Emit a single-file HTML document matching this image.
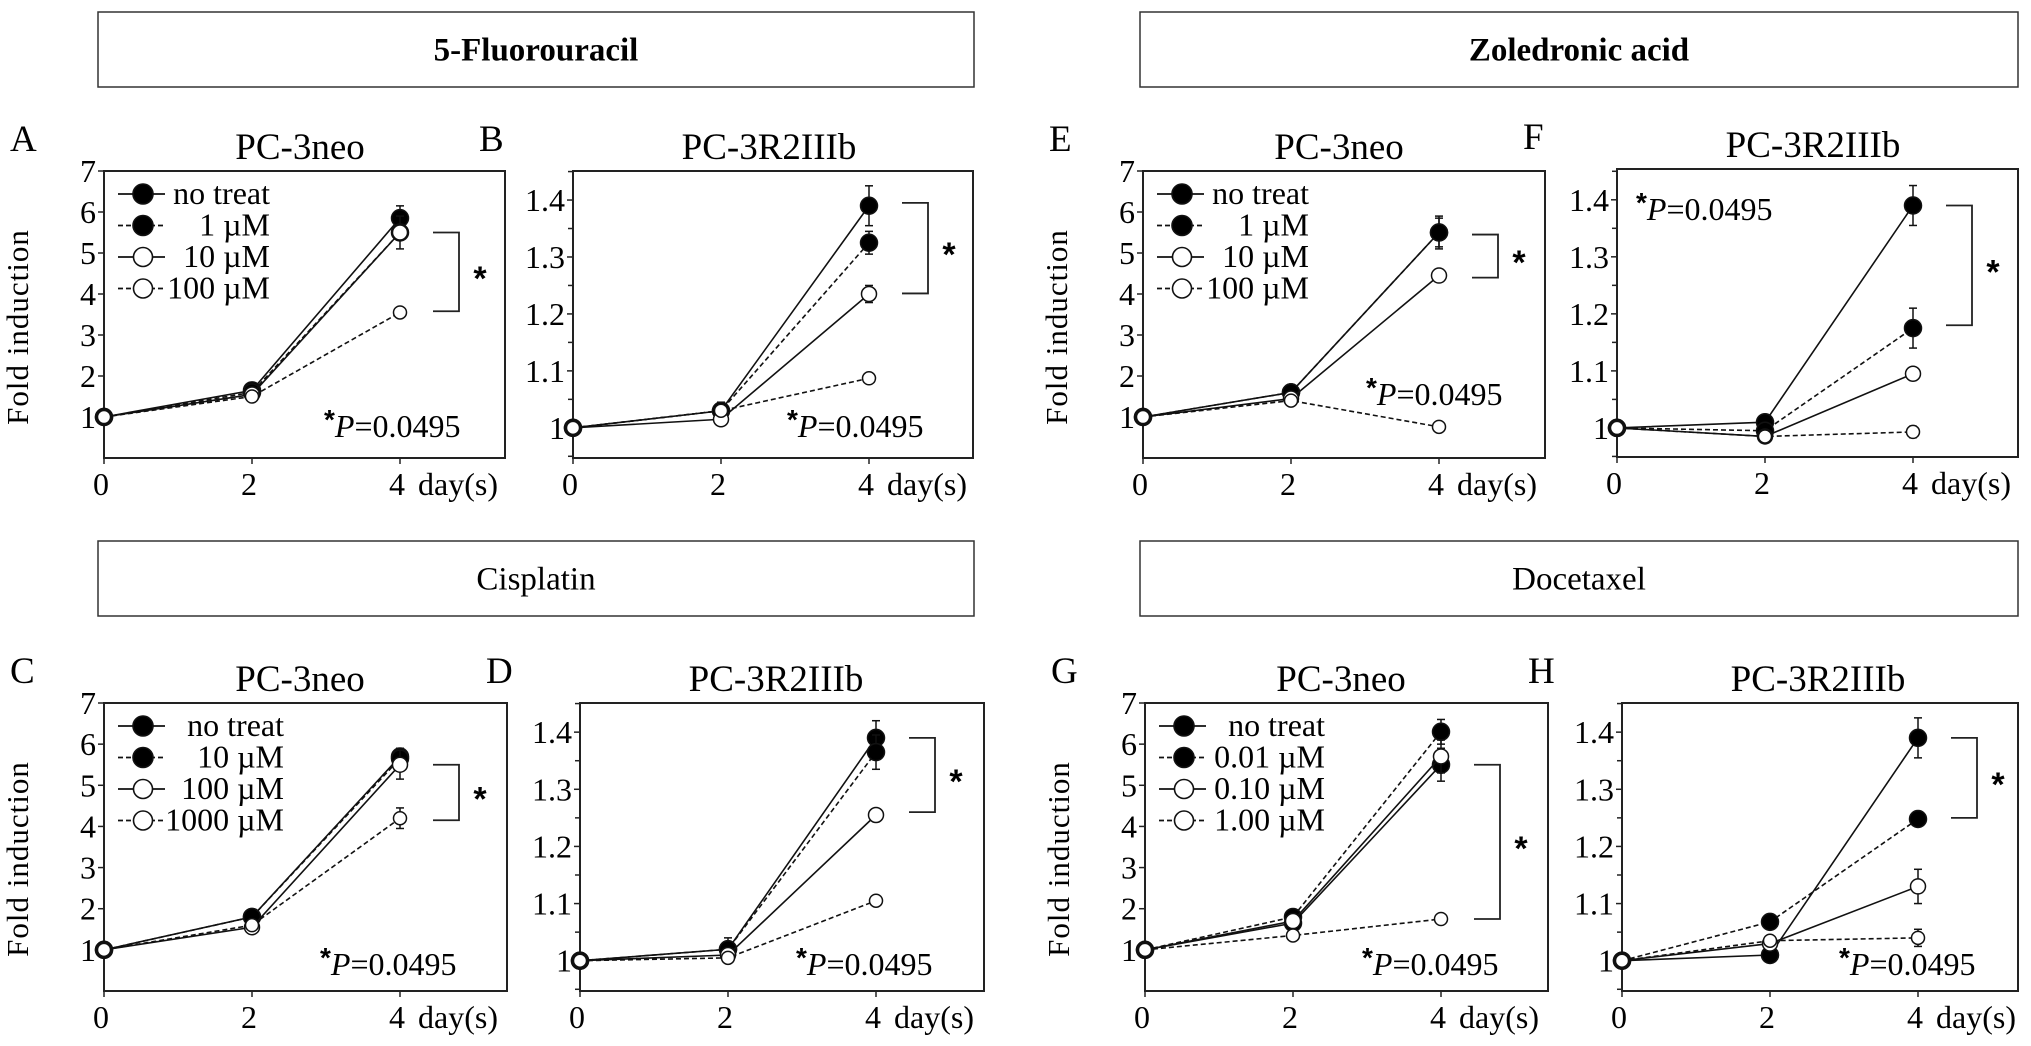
<!DOCTYPE html>
<html><head><meta charset="utf-8"><style>
html,body{margin:0;padding:0;background:#fff;}
svg{display:block;font-family:"Liberation Serif",serif;}
</style></head><body>
<svg id="fig" width="2031" height="1046" viewBox="0 0 2031 1046" xmlns="http://www.w3.org/2000/svg"></svg>
<script>
const days=[0,2,4];
// Panel A: 5-FU, PC-3neo
const A_vals=[[1,1.65,5.85],[1,1.6,5.5],[1,1.55,5.5],[1,1.5,3.55]];
const A_err=[[0,0,0.3],[0,0,0.4],[0,0,0.1],[0,0,0.05]];
const A_legend=["no treat","1 µM","10 µM","100 µM"];
const A_bracket=[5.5,3.58];
// Panel B: 5-FU, PC-3R2IIIb
const B_vals=[[1,1.03,1.39],[1,1.03,1.325],[1,1.015,1.235],[1,1.03,1.087]];
const B_err=[[0,0.015,0.035],[0,0,0.02],[0,0,0.015],[0,0,0.005]];
const B_bracket=[1.395,1.236];
// Panel C: Cisplatin, PC-3neo
const C_vals=[[1,1.8,5.7],[1,1.8,5.65],[1,1.55,5.5],[1,1.6,4.2]];
const C_err=[[0,0,0.2],[0,0,0.2],[0,0,0.35],[0,0,0.25]];
const C_legend=["no treat","10 µM","100 µM","1000 µM"];
const C_bracket=[5.5,4.15];
// Panel D: Cisplatin, PC-3R2IIIb
const D_vals=[[1,1.02,1.39],[1,1.02,1.365],[1,1.01,1.255],[1,1.005,1.105]];
const D_err=[[0,0.02,0.03],[0,0,0.03],[0,0,0.005],[0,0,0.005]];
const D_bracket=[1.39,1.26];
// Panel E: Zoledronic acid, PC-3neo
const E_vals=[[1,1.6,5.5],[1,1.6,5.5],[1,1.45,4.45],[1,1.4,0.76]];
const E_err=[[0,0,0.35],[0,0,0.4],[0,0,0.08],[0,0,0.03]];
const E_legend=["no treat","1 µM","10 µM","100 µM"];
const E_bracket=[5.45,4.4];
// Panel F: Zoledronic acid, PC-3R2IIIb
const F_vals=[[1,1.01,1.39],[1,0.995,1.175],[1,0.985,1.095],[1,0.985,0.993]];
const F_err=[[0,0,0.035],[0,0,0.035],[0,0,0.005],[0,0,0.01]];
const F_bracket=[1.39,1.18];
// Panel G: Docetaxel, PC-3neo
const G_vals=[[1,1.65,5.5],[1,1.8,6.3],[1,1.7,5.7],[1,1.35,1.75]];
const G_err=[[0,0,0.4],[0,0,0.3],[0,0,0.4],[0,0,0.05]];
const G_legend=["no treat","0.01 µM","0.10 µM","1.00 µM"];
const G_bracket=[5.5,1.75];
// Panel H: Docetaxel, PC-3R2IIIb
const H_vals=[[1,1.01,1.39],[1,1.068,1.248],[1,1.03,1.13],[1,1.035,1.04]];
const H_err=[[0,0,0.035],[0,0,0.01],[0,0,0.03],[0,0,0.015]];
const H_bracket=[1.39,1.25];

const neoTicks=[1,2,3,4,5,6,7];
const neoTickLabels=["1","2","3","4","5","6","7"];
const r2Ticks=[1,1.1,1.2,1.3,1.4];
const r2TickLabels=["1","1.1","1.2","1.3","1.4"];
const r2Minor=[0.95,1.05,1.15,1.25,1.35,1.45];

const NS="http://www.w3.org/2000/svg";
const svg=document.getElementById('fig');
function mk(tag,attrs,parent){const e=document.createElementNS(NS,tag);for(const k in attrs)e.setAttribute(k,attrs[k]);(parent||svg).appendChild(e);return e;}

const headers=[["5-Fluorouracil",98,12,876,75,true],["Zoledronic acid",1140,12,878,75,true],["Cisplatin",98,541,876,75,false],["Docetaxel",1140,541,878,75,false]];
headers.forEach(h=>{
  const g=mk('g',{});
  
  
  mk('rect',{x:h[1],y:h[2],width:h[3],height:h[4],fill:'none',stroke:'#333','stroke-width':1.5},g);
  const t=mk('text',{x:h[1]+h[3]/2,y:h[2]+h[4]/2+11,'text-anchor':'middle','font-size':33,'font-weight':h[5]?'bold':'normal'},g);
  t.textContent=h[0];
});

const panels=[
 {id:'A',x0:104,x1:505,top:171,bot:458,ymin:0,ymax:7,vals:A_vals,err:A_err,legend:A_legend,br:A_bracket,title:'PC-3neo',px:330,py:437,neo:true},
 {id:'B',x0:573,x1:973,top:171,bot:458,ymin:0.947,ymax:1.451,vals:B_vals,err:B_err,br:B_bracket,title:'PC-3R2IIIb',px:793,py:437,neo:false},
 {id:'E',x0:1143,x1:1545,top:171,bot:458,ymin:0,ymax:7,vals:E_vals,err:E_err,legend:E_legend,br:E_bracket,title:'PC-3neo',px:1372,py:405,neo:true},
 {id:'F',x0:1617,x1:2018,top:169,bot:457,ymin:0.949,ymax:1.454,vals:F_vals,err:F_err,br:F_bracket,title:'PC-3R2IIIb',px:1642,py:220,neo:false},
 {id:'C',x0:104,x1:507,top:703,bot:991,ymin:0,ymax:7,vals:C_vals,err:C_err,legend:C_legend,br:C_bracket,title:'PC-3neo',px:326,py:975,neo:true},
 {id:'D',x0:580,x1:984,top:703,bot:991,ymin:0.947,ymax:1.451,vals:D_vals,err:D_err,br:D_bracket,title:'PC-3R2IIIb',px:802,py:975,neo:false},
 {id:'G',x0:1145,x1:1548,top:703,bot:991,ymin:0,ymax:7,vals:G_vals,err:G_err,legend:G_legend,br:G_bracket,title:'PC-3neo',px:1368,py:975,neo:true},
 {id:'H',x0:1622,x1:2018,top:703,bot:991,ymin:0.947,ymax:1.451,vals:H_vals,err:H_err,br:H_bracket,title:'PC-3R2IIIb',px:1845,py:975,neo:false}
];
const styles=[{fill:'#000',dash:null,r:8.5},{fill:'#000',dash:'5,3',r:8.5},{fill:'#fff',dash:null,r:7.5},{fill:'#fff',dash:'5,3',r:6.5}];

panels.forEach(p=>{
  const g=mk('g',{});
  
  
  const xs=d=>p.x0+d*74;
  const ys=v=>p.bot-(v-p.ymin)/(p.ymax-p.ymin)*(p.bot-p.top);
  const L=mk('text',{x:p.x0-94,y:p.top-20,'font-size':37},g);L.textContent=p.id;
  
  
  const T=mk('text',{x:p.x0+196,y:p.top-12,'text-anchor':'middle','font-size':37},g);T.textContent=p.title;
  
  
  const fr=mk('rect',{x:p.x0,y:p.top,width:p.x1-p.x0,height:p.bot-p.top,fill:'none',stroke:'#222','stroke-width':2},g);
  
  
  const tk=p.neo?neoTicks:r2Ticks, tl=p.neo?neoTickLabels:r2TickLabels;
  tk.forEach((v,i)=>{
    mk('line',{x1:p.x0-6,x2:p.x0,y1:ys(v),y2:ys(v),stroke:'#222','stroke-width':1.5},g);
    const t=mk('text',{x:p.x0-8,y:ys(v)+11,'text-anchor':'end','font-size':32},g);t.textContent=tl[i];
    
    
  });
  if(!p.neo) r2Minor.forEach(v=>{if(v>p.ymin&&v<p.ymax)mk('line',{x1:p.x0-5,x2:p.x0,y1:ys(v),y2:ys(v),stroke:'#222','stroke-width':1.5},g);});
  days.forEach(d=>{
    mk('line',{x1:xs(d),x2:xs(d),y1:p.bot,y2:p.bot+6,stroke:'#222','stroke-width':1.5},g);
    const t=mk('text',{x:xs(d)-3,y:p.bot+37,'text-anchor':'middle','font-size':32},g);t.textContent=String(d);
    
    
  });
  const dy=mk('text',{x:xs(4)+18,y:p.bot+37,'font-size':32},g);dy.textContent='day(s)';
  
  
  if(p.neo){
    const yl=mk('text',{x:0,y:0,'text-anchor':'middle','font-size':31,transform:`translate(${p.x0-76},${p.top+156}) rotate(-90)`,'letter-spacing':'1'},g);
    yl.textContent='Fold induction';
    
    
  }
  p.vals.forEach((vals,si)=>{
    const st=styles[si];
    const sg=mk('g',{},g);
    
    
    const pts=days.map((d,i)=>xs(d)+','+ys(vals[i])).join(' ');
    const pl=mk('polyline',{points:pts,fill:'none',stroke:'#111','stroke-width':1.6},sg);
    if(st.dash)pl.setAttribute('stroke-dasharray',st.dash);
    days.forEach((d,i)=>{
      const e=p.err[si][i];
      if(e>0){
        mk('line',{x1:xs(d),x2:xs(d),y1:ys(vals[i]-e),y2:ys(vals[i]+e),stroke:'#111','stroke-width':1.5},sg);
        mk('line',{x1:xs(d)-4,x2:xs(d)+4,y1:ys(vals[i]+e),y2:ys(vals[i]+e),stroke:'#111','stroke-width':1.5},sg);
        mk('line',{x1:xs(d)-4,x2:xs(d)+4,y1:ys(vals[i]-e),y2:ys(vals[i]-e),stroke:'#111','stroke-width':1.5},sg);
      }
      const c=mk('circle',{cx:xs(d),cy:ys(vals[i]),r:st.r,fill:st.fill,stroke:'#111','stroke-width':1.5},sg);
      
      
    });
  });
  if(p.legend){
    const lg=mk('g',{},g);
    
    
    const endX=p.id==='A'||p.id==='E'?p.x0+166:p.x0+180;
    p.legend.forEach((lab,i)=>{
      const y=p.top+23+i*31.5, st=styles[i];
      const ln=mk('line',{x1:p.x0+14,x2:p.x0+61,y1:y,y2:y,stroke:'#111','stroke-width':1.8},lg);
      if(st.dash)ln.setAttribute('stroke-dasharray',st.dash);
      mk('circle',{cx:p.x0+39,cy:y,r:st.fill==='#000'?10:9.5,fill:st.fill,stroke:'#111','stroke-width':1.6},lg);
      const t=mk('text',{x:endX,y:y+10,'text-anchor':'end','font-size':32},lg);t.textContent=lab;
      
      
    });
  }
  const bx=xs(4)+33, y1=ys(p.br[0]), y2=ys(p.br[1]);
  const bp=mk('polyline',{points:`${bx},${y1} ${bx+26},${y1} ${bx+26},${y2} ${bx},${y2}`,fill:'none',stroke:'#222','stroke-width':1.8},g);
  
  
  const sx=mk('text',{x:bx+47,y:(y1+y2)/2+18,'text-anchor':'middle','font-size':34,'font-weight':'bold','font-family':'"Liberation Sans",sans-serif'},g);sx.textContent='*';
  
  
  const pt=mk('text',{x:p.px-6,y:p.py,'font-size':32},g);
  
  
  const s1=mk('tspan',{'font-weight':'bold','font-family':'"Liberation Sans",sans-serif','font-size':28,dy:-8},pt);s1.textContent='*';
  const s2=mk('tspan',{'font-style':'italic',dy:8},pt);s2.textContent='P';
  const s3=mk('tspan',{},pt);s3.textContent='=0.0495';
});
</script>
</body></html>
